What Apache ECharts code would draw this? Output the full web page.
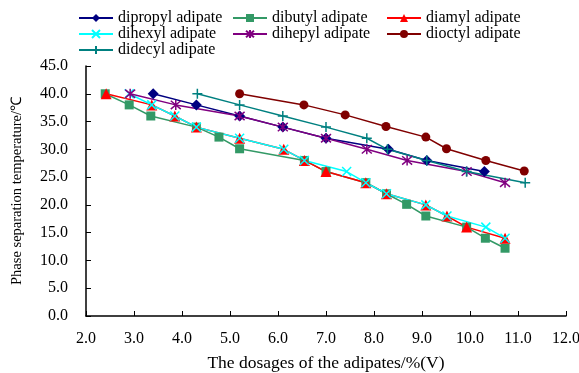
<!DOCTYPE html>
<html>
<head>
<meta charset="utf-8">
<script src="https://cdn.jsdelivr.net/npm/echarts@6/dist/echarts.min.js"></script>
<style>
html,body{margin:0;padding:0;background:#fff;}
#c{width:579px;height:373px;}
</style>
</head>
<body>
<div id="c"></div>
<script>
var seriesNames = ['dipropyl adipate','dibutyl adipate','diamyl adipate','dihexyl adipate','dihepyl adipate','dioctyl adipate','didecyl adipate'];

var dipropylX = [3.4, 4.3, 5.2, 6.1, 7.0, 8.3, 9.1, 10.3];
var dipropylY = [40, 38, 36, 34, 32, 30, 28, 26];

var dibutylX = [2.4, 2.9, 3.35, 4.3, 4.77, 5.2, 6.55, 7.0, 7.83, 8.26, 8.68, 9.08, 9.93, 10.32, 10.73];
var dibutylY = [40, 38, 36, 34, 32.2, 30.1, 28, 26, 24, 22, 20.1, 18, 16, 14, 12.2];

var diamylX = [2.42, 3.37, 3.85, 4.3, 5.2, 6.12, 6.55, 7.0, 7.83, 8.26, 9.08, 9.52, 9.93, 10.73];
var diamylY = [40, 38, 36, 34, 32, 30, 28, 26, 24, 22, 20, 18, 16, 14];

var dihexylX = [2.9, 3.37, 3.85, 4.3, 5.2, 6.12, 6.55, 7.43, 7.83, 8.26, 9.08, 9.52, 10.33, 10.73];
var dihexylY = [40, 38, 36, 34, 32, 30, 28, 26, 24, 22, 20, 18, 16, 14];

var dihepylX = [2.92, 3.87, 5.2, 6.1, 7.0, 7.85, 8.69, 9.93, 10.73];
var dihepylY = [40, 38, 36, 34, 32, 30, 28, 26, 24];

var dioctylX = [5.2, 6.54, 7.4, 8.25, 9.08, 9.51, 10.33, 11.13];
var dioctylY = [40, 38, 36.2, 34.1, 32.2, 30.1, 28, 26.1];

var didecylX = [4.32, 5.2, 6.1, 7.0, 7.85, 8.28, 9.1, 9.93, 11.15];
var didecylY = [40, 38, 36, 34, 32, 30, 28, 26, 24];

var xTicks = [2,3,4,5,6,7,8,9,10,11,12];
var yTicks = [0,5,10,15,20,25,30,35,40,45];

function pairs(xs, ys){ return xs.map(function(x,i){ return [x, ys[i]]; }); }

var serif = '"Liberation Serif","Times New Roman",serif';
var symX = 'path://M0,0L10,10M10,0L0,10';
var symAst = 'path://M0,0L10,10M10,0L0,10M5,-1L5,11';
var symPlus = 'path://M5,0L5,10M0,5L10,5';

function mk(name, xs, ys, color, symbol, size, stroke){
  return {
    name: name, type: 'line', data: pairs(xs, ys),
    symbol: symbol, symbolSize: size, showAllSymbol: true,
    lineStyle: {color: color, width: 1.5},
    itemStyle: stroke ? {color: color, borderColor: color, borderWidth: 1.5} : {color: color, borderWidth: 0},
    emphasis: {disabled: true},
    animation: false
  };
}

var chart = echarts.init(document.getElementById('c'), null, {renderer: 'canvas'});
var legendBase = {
  orient: 'vertical', itemWidth: 34, itemHeight: 10, itemGap: 0,
  textStyle: {fontFamily: serif, fontSize: 16, color: '#000', lineHeight: 15.5},
  selectedMode: false, padding: 0
};
chart.setOption({
  backgroundColor: '#fff',
  animation: false,
  legend: [
    Object.assign({}, legendBase, {left: 78, top: 10, data: [seriesNames[0], seriesNames[3], seriesNames[6]]}),
    Object.assign({}, legendBase, {left: 232, top: 10, data: [seriesNames[1], seriesNames[4]]}),
    Object.assign({}, legendBase, {left: 386, top: 10, data: [seriesNames[2], seriesNames[5]]})
  ],
  grid: {left: 86, right: 13, top: 66, bottom: 57, containLabel: false, outerBoundsMode: 'none'},
  xAxis: {
    type: 'value', min: xTicks[0], max: xTicks[xTicks.length-1], interval: 1,
    name: 'The dosages of the adipates/%(V)', nameLocation: 'middle', nameGap: 38,
    nameTextStyle: {fontFamily: serif, fontSize: 17.5, color: '#000'},
    axisLine: {lineStyle: {color: '#000', width: 1.5}},
    axisTick: {inside: true, length: 5, lineStyle: {color: '#000'}},
    axisLabel: {fontFamily: serif, fontSize: 16, color: '#000', margin: 15, formatter: function(v){return v.toFixed(1);}},
    splitLine: {show: false}
  },
  yAxis: {
    type: 'value', min: yTicks[0], max: yTicks[yTicks.length-1], interval: 5,
    name: 'Phase separation temperature/℃', nameLocation: 'middle', nameGap: 61, nameRotate: 90,
    nameTextStyle: {fontFamily: serif, fontSize: 14.5, color: '#000'},
    axisLine: {show: true, lineStyle: {color: '#000', width: 1.5}},
    axisTick: {show: true, inside: true, length: 5, lineStyle: {color: '#000'}},
    axisLabel: {fontFamily: serif, fontSize: 16, color: '#000', margin: 18, formatter: function(v){return v.toFixed(1);}},
    splitLine: {show: false}
  },
  series: [
    mk(seriesNames[0], dipropylX, dipropylY, '#000080', 'diamond', 11, false),
    mk(seriesNames[1], dibutylX, dibutylY, '#339966', 'rect', 9, false),
    mk(seriesNames[2], diamylX, diamylY, '#FF0000', 'triangle', 11, false),
    mk(seriesNames[3], dihexylX, dihexylY, '#00FFFF', symX, 9, true),
    mk(seriesNames[4], dihepylX, dihepylY, '#800080', symAst, 10, true),
    mk(seriesNames[5], dioctylX, dioctylY, '#800000', 'circle', 9, false),
    mk(seriesNames[6], didecylX, didecylY, '#008080', symPlus, 10, true)
  ]
});
</script>
</body>
</html>
